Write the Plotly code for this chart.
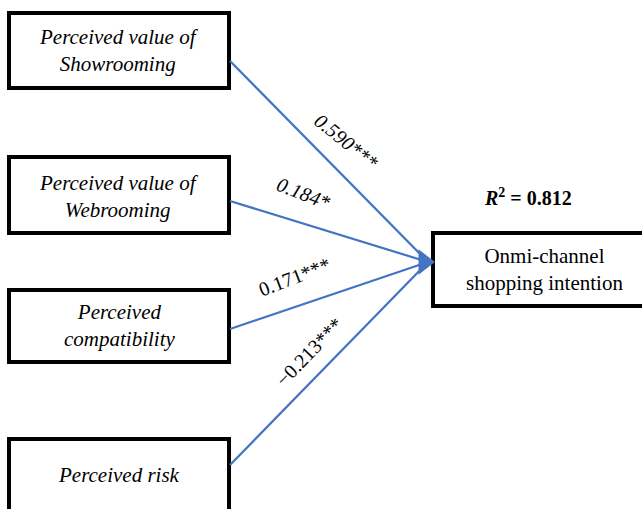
import plotly.graph_objects as go

# ---- data ----
predictors = ["Perceived value of<br>Showrooming", "Perceived value of<br>Webrooming",
              "Perceived<br>compatibility", "Perceived risk"]
coefficients = ["0.590", "0.184", "0.171", "\u22120.213"]
significance = ["***", "*", "***", "***"]
outcome = "Onmi-channel<br>shopping intention"
r_squared = "0.812"

# ---- layout (pixel coordinates) ----
W, H = 642, 509
box_x0, box_x1 = 9, 229
box_y = [(13, 88), (157, 233), (290, 362), (439, 560)]
start_y = [61, 201, 329, 465]
text_y = [50, 196, 325, 475]
target_box = (433, 233, 700, 306)
tip = (433, 262)
label_pos = [(346, 141), (303, 193), (294, 277), (309, 352)]
label_angle = [39, 21, -21, -46]
label_italic = [True, True, False, False]
BLUE = "#4472C4"
FONT = "Liberation Serif, Times New Roman, serif"
FS = 21

fig = go.Figure()

shapes = []
annotations = []
for i, name in enumerate(predictors):
    y0, y1 = box_y[i]
    shapes.append(dict(type="rect", xref="x", yref="y", x0=box_x0, x1=box_x1, y0=y0, y1=y1,
                       line=dict(color="black", width=4), fillcolor="white", layer="below"))
    annotations.append(dict(x=(box_x0 + box_x1) / 2, y=text_y[i], xref="x", yref="y",
                            text=f"<i>{name}</i>", showarrow=False,
                            font=dict(family=FONT, size=FS, color="black")))
    # path line
    sx, sy = box_x1 + 1, start_y[i]
    fig.add_trace(go.Scatter(x=[sx, tip[0] - 5], y=[sy, tip[1]], mode="lines",
                             line=dict(color=BLUE, width=2.2),
                             hoverinfo="skip", showlegend=False))
    lab = coefficients[i] + significance[i]
    if label_italic[i]:
        lab = f"<i>{lab}</i>"
    annotations.append(dict(x=label_pos[i][0], y=label_pos[i][1], xref="x", yref="y",
                            text=lab, showarrow=False, textangle=label_angle[i],
                            font=dict(family=FONT, size=20, color="black")))

# merged arrowhead at the outcome box
fig.add_trace(go.Scatter(x=[tip[0] - 9], y=[tip[1]], mode="markers",
                         marker=dict(symbol="triangle-right", size=22, color=BLUE,
                                     line=dict(width=0)),
                         hoverinfo="skip", showlegend=False))

tx0, ty0, tx1, ty1 = target_box
shapes.append(dict(type="rect", xref="x", yref="y", x0=tx0, x1=tx1, y0=ty0, y1=ty1,
                   line=dict(color="black", width=4), fillcolor="white", layer="below"))
annotations.append(dict(x=544, y=269, xref="x", yref="y", text=outcome, showarrow=False,
                        font=dict(family=FONT, size=FS, color="black")))
annotations.append(dict(x=528, y=197, xref="x", yref="y",
                        text=f"<b><i>R</i><sup>2</sup> = {r_squared}</b>", showarrow=False,
                        font=dict(family=FONT, size=20, color="black")))

fig.update_layout(
    width=W, height=H, margin=dict(l=0, r=0, t=0, b=0),
    paper_bgcolor="white", plot_bgcolor="white",
    xaxis=dict(range=[0, W], visible=False, fixedrange=True),
    yaxis=dict(range=[H, 0], visible=False, fixedrange=True),
    shapes=shapes, annotations=annotations, showlegend=False,
)
fig.write_html("out.html", config={"displayModeBar": False},
               post_script="document.body.style.margin='0';")
